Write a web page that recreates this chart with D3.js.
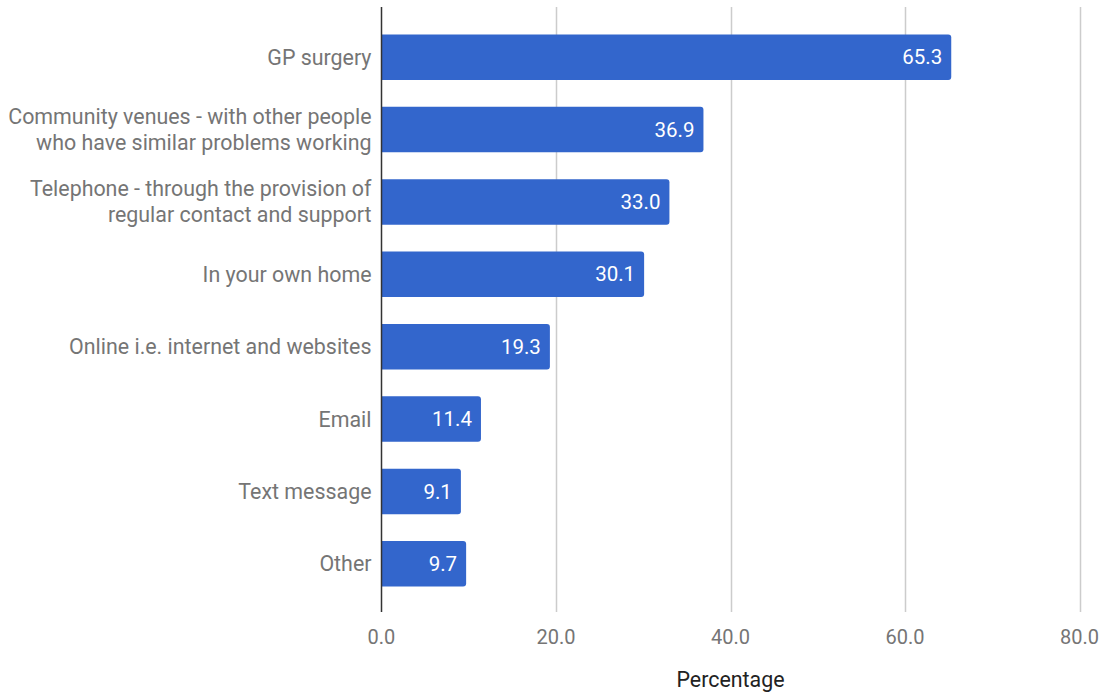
<!DOCTYPE html>
<html>
<head>
<meta charset="utf-8">
<script src="https://cdn.jsdelivr.net/npm/d3@7"></script>
<style>
  html, body { margin: 0; padding: 0; background: #fff; }
  svg { display: block; font-family: Roboto, "Noto Sans", sans-serif; }
</style>
</head>
<body>
<svg id="chart" width="1104" height="694"></svg>
<script>
// Preferred places to receive support (percentage of respondents)
const categories = [
  ["GP surgery"],
  ["Community venues - with other people", "who have similar problems working"],
  ["Telephone - through the provision of", "regular contact and support"],
  ["In your own home"],
  ["Online i.e. internet and websites"],
  ["Email"],
  ["Text message"],
  ["Other"]
];
const values = [65.3, 36.9, 33.0, 30.1, 19.3, 11.4, 9.1, 9.7];
const xTicks = [0, 20, 40, 60, 80];
const xTitle = "Percentage";

const svg = d3.select("#chart");
const plot = { left: 381.5, right: 1079.5, top: 7, bottom: 612 };

const x = d3.scaleLinear().domain([0, 80]).range([plot.left, plot.right]);
const y = d3.scaleBand()
  .domain(d3.range(categories.length))
  .range([21, 600])
  .paddingInner(0.37)
  .paddingOuter(0.185);

// vertical gridlines
svg.append("g")
  .selectAll("line")
  .data(xTicks.filter(d => d > 0))
  .join("line")
  .attr("x1", d => Math.round(x(d)) + 0.5)
  .attr("x2", d => Math.round(x(d)) + 0.5)
  .attr("y1", plot.top)
  .attr("y2", plot.bottom)
  .attr("stroke", "#cccccc")
  .attr("stroke-width", 1.5);

// bars with slightly rounded ends
const r = 3;
svg.append("g")
  .selectAll("path")
  .data(values)
  .join("path")
  .attr("fill", "#3366cc")
  .attr("d", (d, i) => {
    const x0 = x(0), x1 = x(d), y0 = y(i), h = y.bandwidth();
    return `M${x0},${y0}H${x1 - r}Q${x1},${y0} ${x1},${y0 + r}V${y0 + h - r}Q${x1},${y0 + h} ${x1 - r},${y0 + h}H${x0}Z`;
  });

// value labels inside bar ends
svg.append("g")
  .selectAll("text")
  .data(values)
  .join("text")
  .attr("x", d => x(d) - 9)
  .attr("y", (d, i) => y(i) + y.bandwidth() / 2)
  .attr("dy", "0.35em")
  .attr("text-anchor", "end")
  .attr("fill", "#ffffff")
  .attr("font-size", 20.5)
  .text(d => d3.format(".1f")(d));

// category labels (wrapped)
const lab = svg.append("g")
  .selectAll("text")
  .data(categories)
  .join("text")
  .attr("text-anchor", "end")
  .attr("fill", "#757575")
  .attr("font-size", 21.4)
  .attr("x", plot.left - 10)
  .attr("y", (d, i) => y(i) + y.bandwidth() / 2);
lab.selectAll("tspan")
  .data(d => d.map((t, k) => ({ t, k, n: d.length })))
  .join("tspan")
  .attr("x", plot.left - 10)
  .attr("dy", d => d.k === 0 ? `${0.35 - (d.n - 1) * 0.61}em` : "1.22em")
  .text(d => d.t);

// baseline axis
svg.append("line")
  .attr("x1", plot.left).attr("x2", plot.left)
  .attr("y1", plot.top).attr("y2", plot.bottom)
  .attr("stroke", "#333333")
  .attr("stroke-width", 1.5);

// x tick labels
svg.append("g")
  .selectAll("text")
  .data(xTicks)
  .join("text")
  .attr("x", d => x(d))
  .attr("y", 637)
  .attr("dy", "0.35em")
  .attr("text-anchor", "middle")
  .attr("fill", "#757575")
  .attr("font-size", 20)
  .text(d => d3.format(".1f")(d));

// axis title
svg.append("text")
  .attr("x", (plot.left + plot.right) / 2)
  .attr("y", 680)
  .attr("dy", "0.35em")
  .attr("text-anchor", "middle")
  .attr("fill", "#222222")
  .attr("font-size", 21.4)
  .text(xTitle);
</script>
</body>
</html>
